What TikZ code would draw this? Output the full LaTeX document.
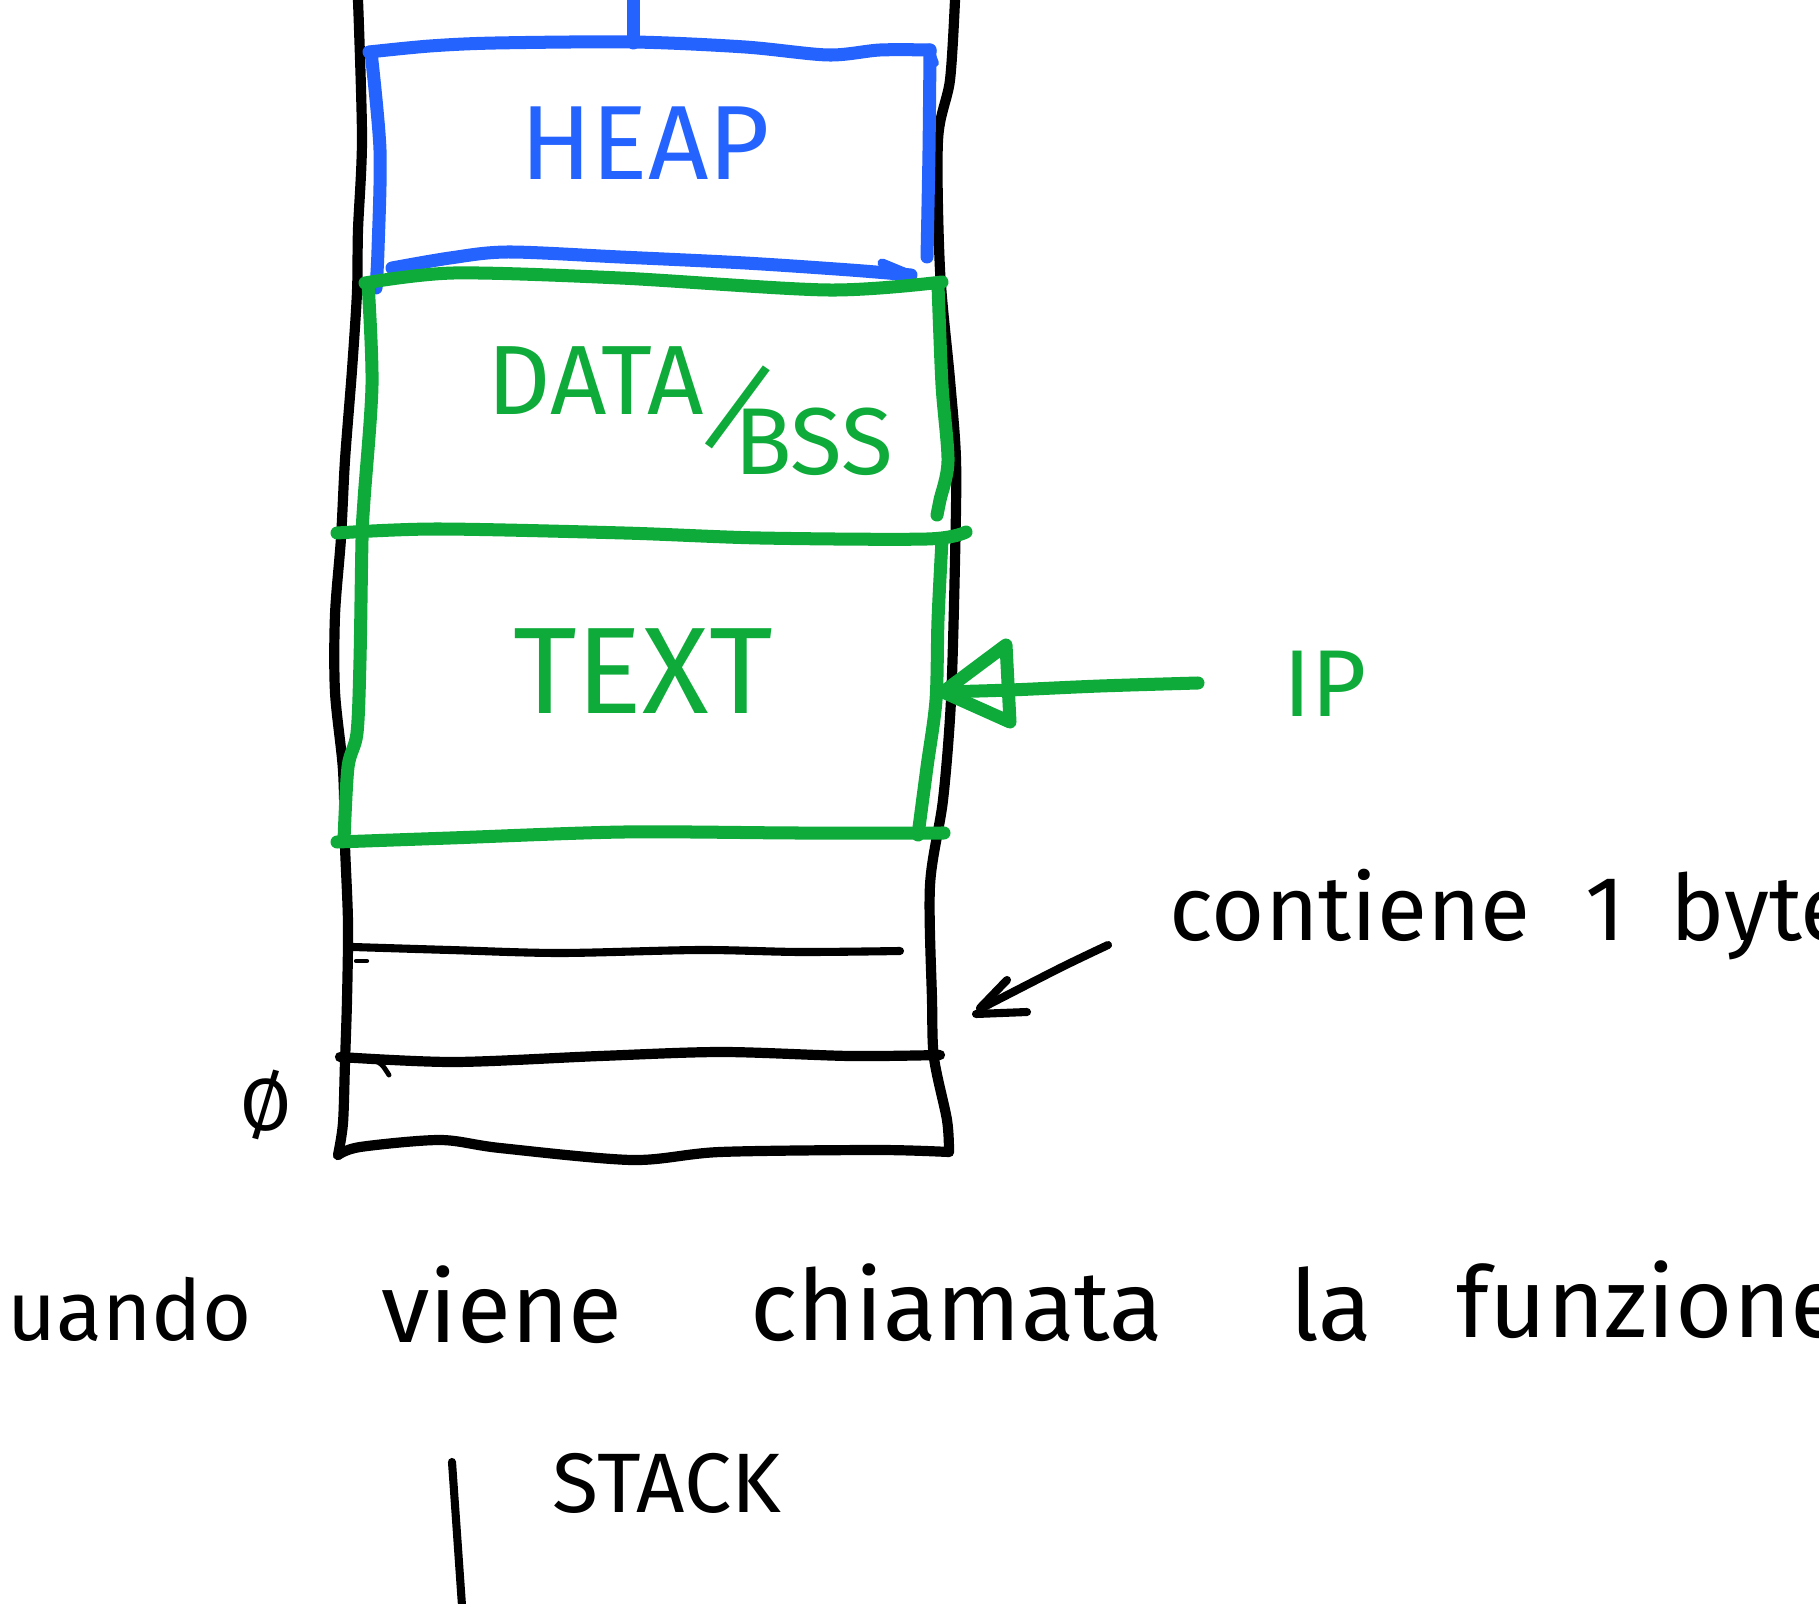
\documentclass[tikz,border=0pt]{standalone}
\usepackage{fontspec}
\setmainfont{Fira Sans}
\definecolor{penGreen}{RGB}{14,171,58}
\definecolor{penBlue}{RGB}{37,99,255}

\begin{document}
\begin{tikzpicture}[x=0.01cm,y=-0.01cm,
  ink/.style={draw=black,line width=2.9pt,line cap=round,line join=round},
  fineink/.style={draw=black,line width=2.3pt,line cap=round,line join=round},
  greenpen/.style={draw=penGreen,line width=3.7pt,line cap=round,line join=round},
  bluepen/.style={draw=penBlue,line width=3.7pt,line cap=round,line join=round},
  lbl/.style={inner sep=0pt,anchor=base},
  greenlbl/.style={lbl,text=penGreen},
  bluelbl/.style={lbl,text=penBlue},
  note/.style={lbl,text=black}
]
\useasboundingbox (0,0) rectangle (1819,1604);
\clip (0,0) rectangle (1819,1604);

% --- outer column of the address space ---
\draw[ink] plot[smooth,tension=0.5] coordinates {(358,0) (362,138) (358,230) (357,292) (352,370) (345,460) (341,538) (335,615) (335,692) (343,770) (345,846) (348,923) (347,1000) (345,1062) (343,1123) (338,1155)};
\draw[ink] plot[smooth,tension=0.5] coordinates {(955,0) (950,80) (938,140) (940,270) (950,380) (956,460) (955,560) (951,700) (943,800) (930,885) (932,1000) (934,1058) (947,1120) (949,1152)};
\draw[ink] plot[smooth,tension=0.5] coordinates {(338,1155) (360,1147) (440,1140) (500,1148) (632,1160) (720,1152) (878,1150) (949,1152)};

% --- cells below TEXT ---
\draw[fineink] plot[smooth,tension=0.5] coordinates {(353,947) (450,950) (560,953) (700,950) (800,952) (900,951)};
\draw[fineink,line width=1.2pt] (356,961) -- (367,961);
\draw[ink] plot[smooth,tension=0.5] coordinates {(340,1057) (454,1062) (600,1056) (722,1052) (850,1056) (940,1055)};
\draw[fineink,line width=1.4pt] (374,1060) .. controls (382,1064) .. (389,1075);

% --- HEAP segment ---
\draw[bluepen] (633,0) -- (633,43);
\draw[bluepen] plot[smooth,tension=0.5] coordinates {(369,52) (430,46) (496,43) (633,42) (745,47) (828,55) (880,50) (930,50)};
\draw[bluepen,line width=2.2pt] (930,50) -- (935,63);
\draw[bluepen] plot[smooth,tension=0.5] coordinates {(371,52) (380,150) (378,250) (376,288)};
\draw[bluepen] plot[smooth,tension=0.5] coordinates {(930,50) (929,150) (927,257)};
\draw[bluepen] plot[smooth,tension=0.5] coordinates {(392,268) (450,258) (508,252) (620,257) (745,263) (850,270) (911,275)};
\draw[bluepen,line width=2.6pt] (882,263) -- (911,275);
\node[bluelbl,font=\fontsize{30}{36}\selectfont] (heap) at (645,180) {HEAP};

% --- DATA/BSS and TEXT segments ---
\draw[greenpen] plot[smooth,tension=0.5] coordinates {(365,283) (454,273) (620,278) (828,290) (942,282)};
\draw[greenpen] plot[smooth,tension=0.5] coordinates {(337,533) (437,529) (624,533) (760,538) (927,539) (966,532)};
\draw[greenpen] plot[smooth,tension=0.5] coordinates {(337,842) (450,838) (624,832) (797,833) (944,833)};
\draw[greenpen] plot[smooth,tension=0.5] coordinates {(368,283) (372,385) (364,500) (362,540) (360,660) (357,733) (348,767) (344,840)};
\draw[greenpen] plot[smooth,tension=0.5] coordinates {(938,285) (942,385) (948,461) (940,500) (937,515)};
\draw[greenpen] plot[smooth,tension=0.5] coordinates {(942,540) (938,620) (936,700) (927,767) (918,835)};

\node[greenlbl,font=\fontsize{28}{34}\selectfont] (data) at (596,415) {DATA};
\node[greenlbl,font=\fontsize{30}{36}\selectfont,rotate=-22] (slash) at (724,442) {/};
\node[greenlbl,font=\fontsize{27}{32}\selectfont] (bss) at (814,475) {BSS};
\node[greenlbl,font=\fontsize{35}{40}\selectfont] (text) at (643,714) {TEXT};

% --- instruction pointer ---
\node[greenlbl,font=\fontsize{27}{32}\selectfont] (ip) at (1325,716) {IP};
\coordinate (ipTail) at (1198,683);
\coordinate (ipTip) at (943,692);
\draw[greenpen] plot[smooth,tension=0.5] coordinates {(ipTail) (1100,686) (1010,690) (ipTip)};
\draw[greenpen] (ipTip) -- (1006,645) -- (1010,722) -- cycle;

% --- one-byte cell note ---
\node[note,anchor=base west,font=\fontsize{26}{30}\selectfont] (byte) at (1169,940) {contiene\hspace{0.55cm}1\hspace{0.45cm}byte};
\coordinate (cellTail) at (1108,945);
\coordinate (cellTip) at (980,1009);
\draw[fineink] plot[smooth,tension=0.5] coordinates {(cellTail) (1060,968) (cellTip)};
\draw[fineink] (1007,980) -- (980,1008);
\draw[fineink] (976,1014) -- (1027,1012);

% --- address zero ---
\node[note,font=\fontsize{21}{25}\selectfont] (zero) at (266,1130) {Ø};

% --- sentence below ---
\node[note,anchor=base east,font=\fontsize{24}{30}\selectfont] (w1) at (252,1340) {quando};
\node[note,font=\fontsize{28}{34}\selectfont] (w2) at (502,1342) {viene};
\node[note,font=\fontsize{28}{34}\selectfont] (w3) at (957,1340) {chiamata};
\node[note,font=\fontsize{28}{34}\selectfont] (w4) at (1331,1340) {la};
\node[note,anchor=base west,font=\fontsize{28}{34}\selectfont] (w5) at (1456,1337) {funzione};

% --- stack sketch ---
\node[note,font=\fontsize{24}{28}\selectfont] (stack) at (667,1512) {STACK};
\coordinate (barTop) at (452,1462);
\coordinate (barEnd) at (463,1620);
\draw[ink,line width=2.3pt] (barTop) -- (barEnd);
\end{tikzpicture}
\end{document}
